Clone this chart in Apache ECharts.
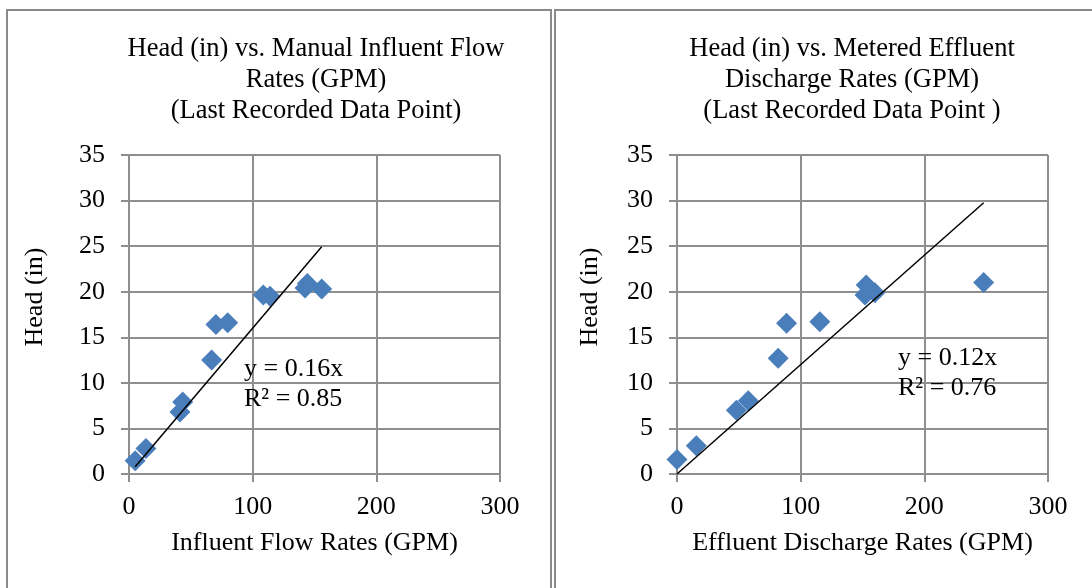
<!DOCTYPE html>
<html>
<head>
<meta charset="utf-8">
<script src="https://cdn.jsdelivr.net/npm/echarts@6/dist/echarts.min.js"></script>
<style>html,body{margin:0;padding:0;background:#fff;}#c{width:1092px;height:588px;}</style>
</head>
<body>
<div id="c"></div>
<script>
// Left chart: Head (in) vs. Manual Influent Flow Rates (GPM)
const influentFlow = [5, 13.7, 41.2, 43.4, 66.8, 70.3, 79.8, 108.6, 114, 144.2, 142.3, 155.8];
const influentHead = [1.46, 2.8, 6.8, 7.9, 12.5, 16.4, 16.6, 19.65, 19.5, 20.9, 20.4, 20.3];
const influentSlope = 0.16;
const influentR2 = 0.85;

// Right chart: Head (in) vs. Metered Effluent Discharge Rates (GPM)
const effluentFlow = [0, 15.6, 48, 57.6, 81.8, 88.6, 115.5, 153, 152, 160, 248];
const effluentHead = [1.6, 3.1, 7.0, 8.05, 12.7, 16.55, 16.7, 20.75, 19.65, 19.9, 21.0];
const effluentSlope = 0.12;
const effluentR2 = 0.76;

const xTicks = [0, 100, 200, 300];
const yTicks = [0, 5, 10, 15, 20, 25, 30, 35];

const FONT = '"Liberation Serif", "Times New Roman", serif';
const GRID_C = '#8e8e8e';
const BLUE = '#4A7EBB';

function pairs(xs, ys) { return xs.map((x, i) => [x, ys[i]]); }
function trend(xs, slope) {
  const mn = Math.min(...xs), mx = Math.max(...xs);
  return [[mn, slope * mn], [mx, slope * mx]];
}

function xAxis(idx, name) {
  return {
    type: 'value', gridIndex: idx, min: xTicks[0], max: xTicks[xTicks.length - 1], interval: 100,
    name: name, nameLocation: 'middle', nameGap: 56,
    nameTextStyle: { fontFamily: FONT, fontSize: 26, color: '#000' },
    axisLine: { show: true, onZero: false, lineStyle: { color: GRID_C, width: 2 } },
    axisTick: { show: true, length: 8, lineStyle: { color: GRID_C, width: 2 } },
    axisLabel: { fontFamily: FONT, fontSize: 26, color: '#000', margin: 20 },
    splitLine: { show: true, lineStyle: { color: GRID_C, width: 2 } }
  };
}
function yAxis(idx) {
  return {
    type: 'value', gridIndex: idx, min: yTicks[0], max: yTicks[yTicks.length - 1], interval: 5,
    axisLine: { show: true, onZero: false, lineStyle: { color: GRID_C, width: 2 } },
    axisTick: { show: true, length: 8, lineStyle: { color: GRID_C, width: 2 } },
    axisLabel: { fontFamily: FONT, fontSize: 26, color: '#000', margin: 24 },
    splitLine: { show: true, lineStyle: { color: GRID_C, width: 2 } }
  };
}

const chart = echarts.init(document.getElementById('c'), null, { renderer: 'canvas' });
chart.setOption({
  animation: false,
  backgroundColor: '#fff',
  title: [
    { text: 'Head (in) vs. Manual Influent Flow\nRates (GPM)\n(Last Recorded Data Point)',
      left: 311, top: 29, textAlign: 'center',
      textStyle: { fontFamily: FONT, fontSize: 26.5, fontWeight: 'normal', color: '#000', lineHeight: 31 } },
    { text: 'Head (in) vs. Metered Effluent\nDischarge Rates (GPM)\n(Last Recorded Data Point )',
      left: 847, top: 29, textAlign: 'center',
      textStyle: { fontFamily: FONT, fontSize: 26.5, fontWeight: 'normal', color: '#000', lineHeight: 31 } }
  ],
  grid: [
    { left: 129, top: 155, width: 371, height: 319 },
    { left: 677, top: 155, width: 371, height: 319 }
  ],
  xAxis: [xAxis(0, 'Influent Flow Rates (GPM)'), xAxis(1, 'Effluent Discharge Rates (GPM)')],
  yAxis: [yAxis(0), yAxis(1)],
  series: [
    { type: 'scatter', xAxisIndex: 0, yAxisIndex: 0, symbol: 'diamond', symbolSize: 21,
      itemStyle: { color: BLUE, opacity: 1 }, data: pairs(influentFlow, influentHead), z: 2 },
    { type: 'line', xAxisIndex: 0, yAxisIndex: 0, data: trend(influentFlow, influentSlope),
      symbol: 'none', lineStyle: { color: '#000', width: 1.5 }, z: 3 },
    { type: 'scatter', xAxisIndex: 1, yAxisIndex: 1, symbol: 'diamond', symbolSize: 21,
      itemStyle: { color: BLUE, opacity: 1 }, data: pairs(effluentFlow, effluentHead), z: 2 },
    { type: 'line', xAxisIndex: 1, yAxisIndex: 1, data: trend(effluentFlow, effluentSlope),
      symbol: 'none', lineStyle: { color: '#000', width: 1.5 }, z: 3 }
  ],
  graphic: [
    { type: 'rect', shape: { x: 7, y: 10, width: 544, height: 620 }, style: { fill: 'none', stroke: '#8a8a8a', lineWidth: 2 }, silent: true },
    { type: 'rect', shape: { x: 555, y: 10, width: 560, height: 620 }, style: { fill: 'none', stroke: '#8a8a8a', lineWidth: 2 }, silent: true },
    { type: 'text', x: 35, y: 297, rotation: Math.PI / 2,
      style: { text: 'Head (in)', fontFamily: FONT, fontSize: 26, fill: '#000', align: 'center', verticalAlign: 'middle' } },
    { type: 'text', x: 590, y: 297, rotation: Math.PI / 2,
      style: { text: 'Head (in)', fontFamily: FONT, fontSize: 26, fill: '#000', align: 'center', verticalAlign: 'middle' } },
    { type: 'text', x: 244, y: 354, z: 10,
      style: { text: 'y = ' + influentSlope.toFixed(2) + 'x\nR² = ' + influentR2.toFixed(2), fontFamily: FONT, fontSize: 26, fill: '#000', lineHeight: 30 } },
    { type: 'text', x: 898, y: 343, z: 10,
      style: { text: 'y = ' + effluentSlope.toFixed(2) + 'x\nR² = ' + effluentR2.toFixed(2), fontFamily: FONT, fontSize: 26, fill: '#000', lineHeight: 30 } }
  ]
});
</script>
</body>
</html>
